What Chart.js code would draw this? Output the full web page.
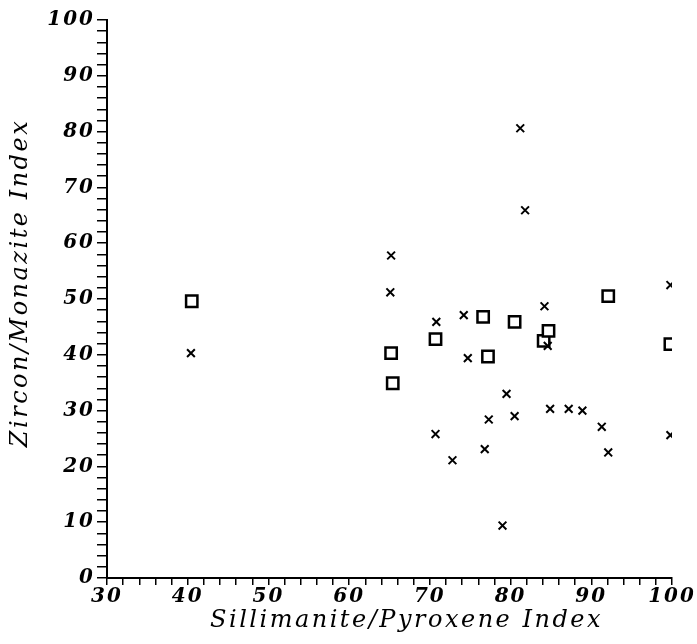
<!DOCTYPE html>
<html>
<head>
<meta charset="utf-8">
<script src="https://cdn.jsdelivr.net/npm/chart.js@4"></script>
<style>
  html, body { margin: 0; padding: 0; background: #fff; }
  #wrap { width: 697px; height: 644px; }
</style>
</head>
<body>
<div id="wrap"><canvas id="c" width="697" height="644"></canvas></div>
<script>
// Sample indices: squares and crosses
const squareX = [40.5, 65.2, 65.4, 70.7, 76.6, 77.2, 80.5, 84.1, 84.7, 92.1, 99.8];
const squareY = [49.6, 40.3, 34.9, 42.8, 46.8, 39.7, 45.9, 42.5, 44.3, 50.5, 41.9];

const crossX = [40.4, 65.2, 65.1, 70.8, 70.7, 72.8, 74.2, 74.7, 76.8, 77.3, 79.0, 79.5,
                80.5, 81.2, 81.8, 84.2, 84.6, 84.9, 87.2, 88.9, 91.3, 92.1, 99.8, 99.8];
const crossY = [40.3, 57.8, 51.2, 45.9, 25.8, 21.1, 47.1, 39.4, 23.1, 28.4, 9.4, 33.0,
                29.0, 80.6, 65.9, 48.7, 41.6, 30.3, 30.3, 30.0, 27.1, 22.5, 52.5, 25.6];

const xTitle = 'Sillimanite/Pyroxene Index';
const yTitle = 'Zircon/Monazite Index';

const toPoints = (xs, ys) => xs.map((x, i) => ({ x: x, y: ys[i] }));

const FONT = '"DejaVu Serif", serif';
const tickFont = { family: FONT, size: 20, style: 'italic', weight: 'bold' };
const majorOnly = v => (Math.round(v) % 10 === 0 ? String(Math.round(v)) : '');

// Wide letter spacing for tick labels, and hand-placed axis titles
const lettering = {
  id: 'lettering',
  beforeDraw(chart) { chart.ctx.letterSpacing = '2px'; },
  afterDraw(chart) {
    const ctx = chart.ctx;
    const area = chart.chartArea;
    ctx.save();
    ctx.letterSpacing = '2.5px';
    ctx.fillStyle = '#000';
    ctx.font = 'italic 24px ' + FONT;
    ctx.textAlign = 'center';
    ctx.textBaseline = 'middle';
    ctx.fillText(xTitle, (area.left + area.right) / 2 + 17, 621);
    ctx.translate(21, (area.top + area.bottom) / 2 - 16);
    ctx.rotate(-Math.PI / 2);
    ctx.fillText(yTitle, 0, 0);
    ctx.restore();
  }
};

new Chart(document.getElementById('c'), {
  type: 'scatter',
  data: {
    datasets: [
      {
        data: toPoints(crossX, crossY),
        pointStyle: 'crossRot',
        radius: 5.5,
        borderColor: '#000',
        borderWidth: 2,
        backgroundColor: '#000'
      },
      {
        data: toPoints(squareX, squareY),
        pointStyle: 'rect',
        radius: 8,
        borderColor: '#000',
        borderWidth: 2.5,
        backgroundColor: '#fff'
      }
    ]
  },
  options: {
    responsive: false,
    animation: false,
    events: [],
    layout: { padding: { top: 20, right: 25, left: 0, bottom: 0 } },
    plugins: { legend: { display: false }, tooltip: { enabled: false } },
    scales: {
      x: {
        type: 'linear',
        min: 30, max: 100,
        afterFit: s => { s.height = 66; },
        border: { color: '#000', width: 2 },
        grid: { drawOnChartArea: false, drawTicks: true, tickLength: 7, color: '#000', lineWidth: 1.5 },
        ticks: { stepSize: 2, autoSkip: false, maxRotation: 0, callback: majorOnly,
                 color: '#000', font: tickFont, padding: 0 },
        title: { display: false }
      },
      y: {
        type: 'linear',
        min: 0, max: 100,
        afterFit: s => { s.width = 107; },
        border: { color: '#000', width: 2 },
        grid: { drawOnChartArea: false, drawTicks: true, tickLength: 10, color: '#000', lineWidth: 1.5 },
        ticks: { stepSize: 2, autoSkip: false, callback: majorOnly,
                 color: '#000', font: tickFont, padding: 2 },
        title: { display: false }
      }
    }
  },
  plugins: [lettering]
});
</script>
</body>
</html>
